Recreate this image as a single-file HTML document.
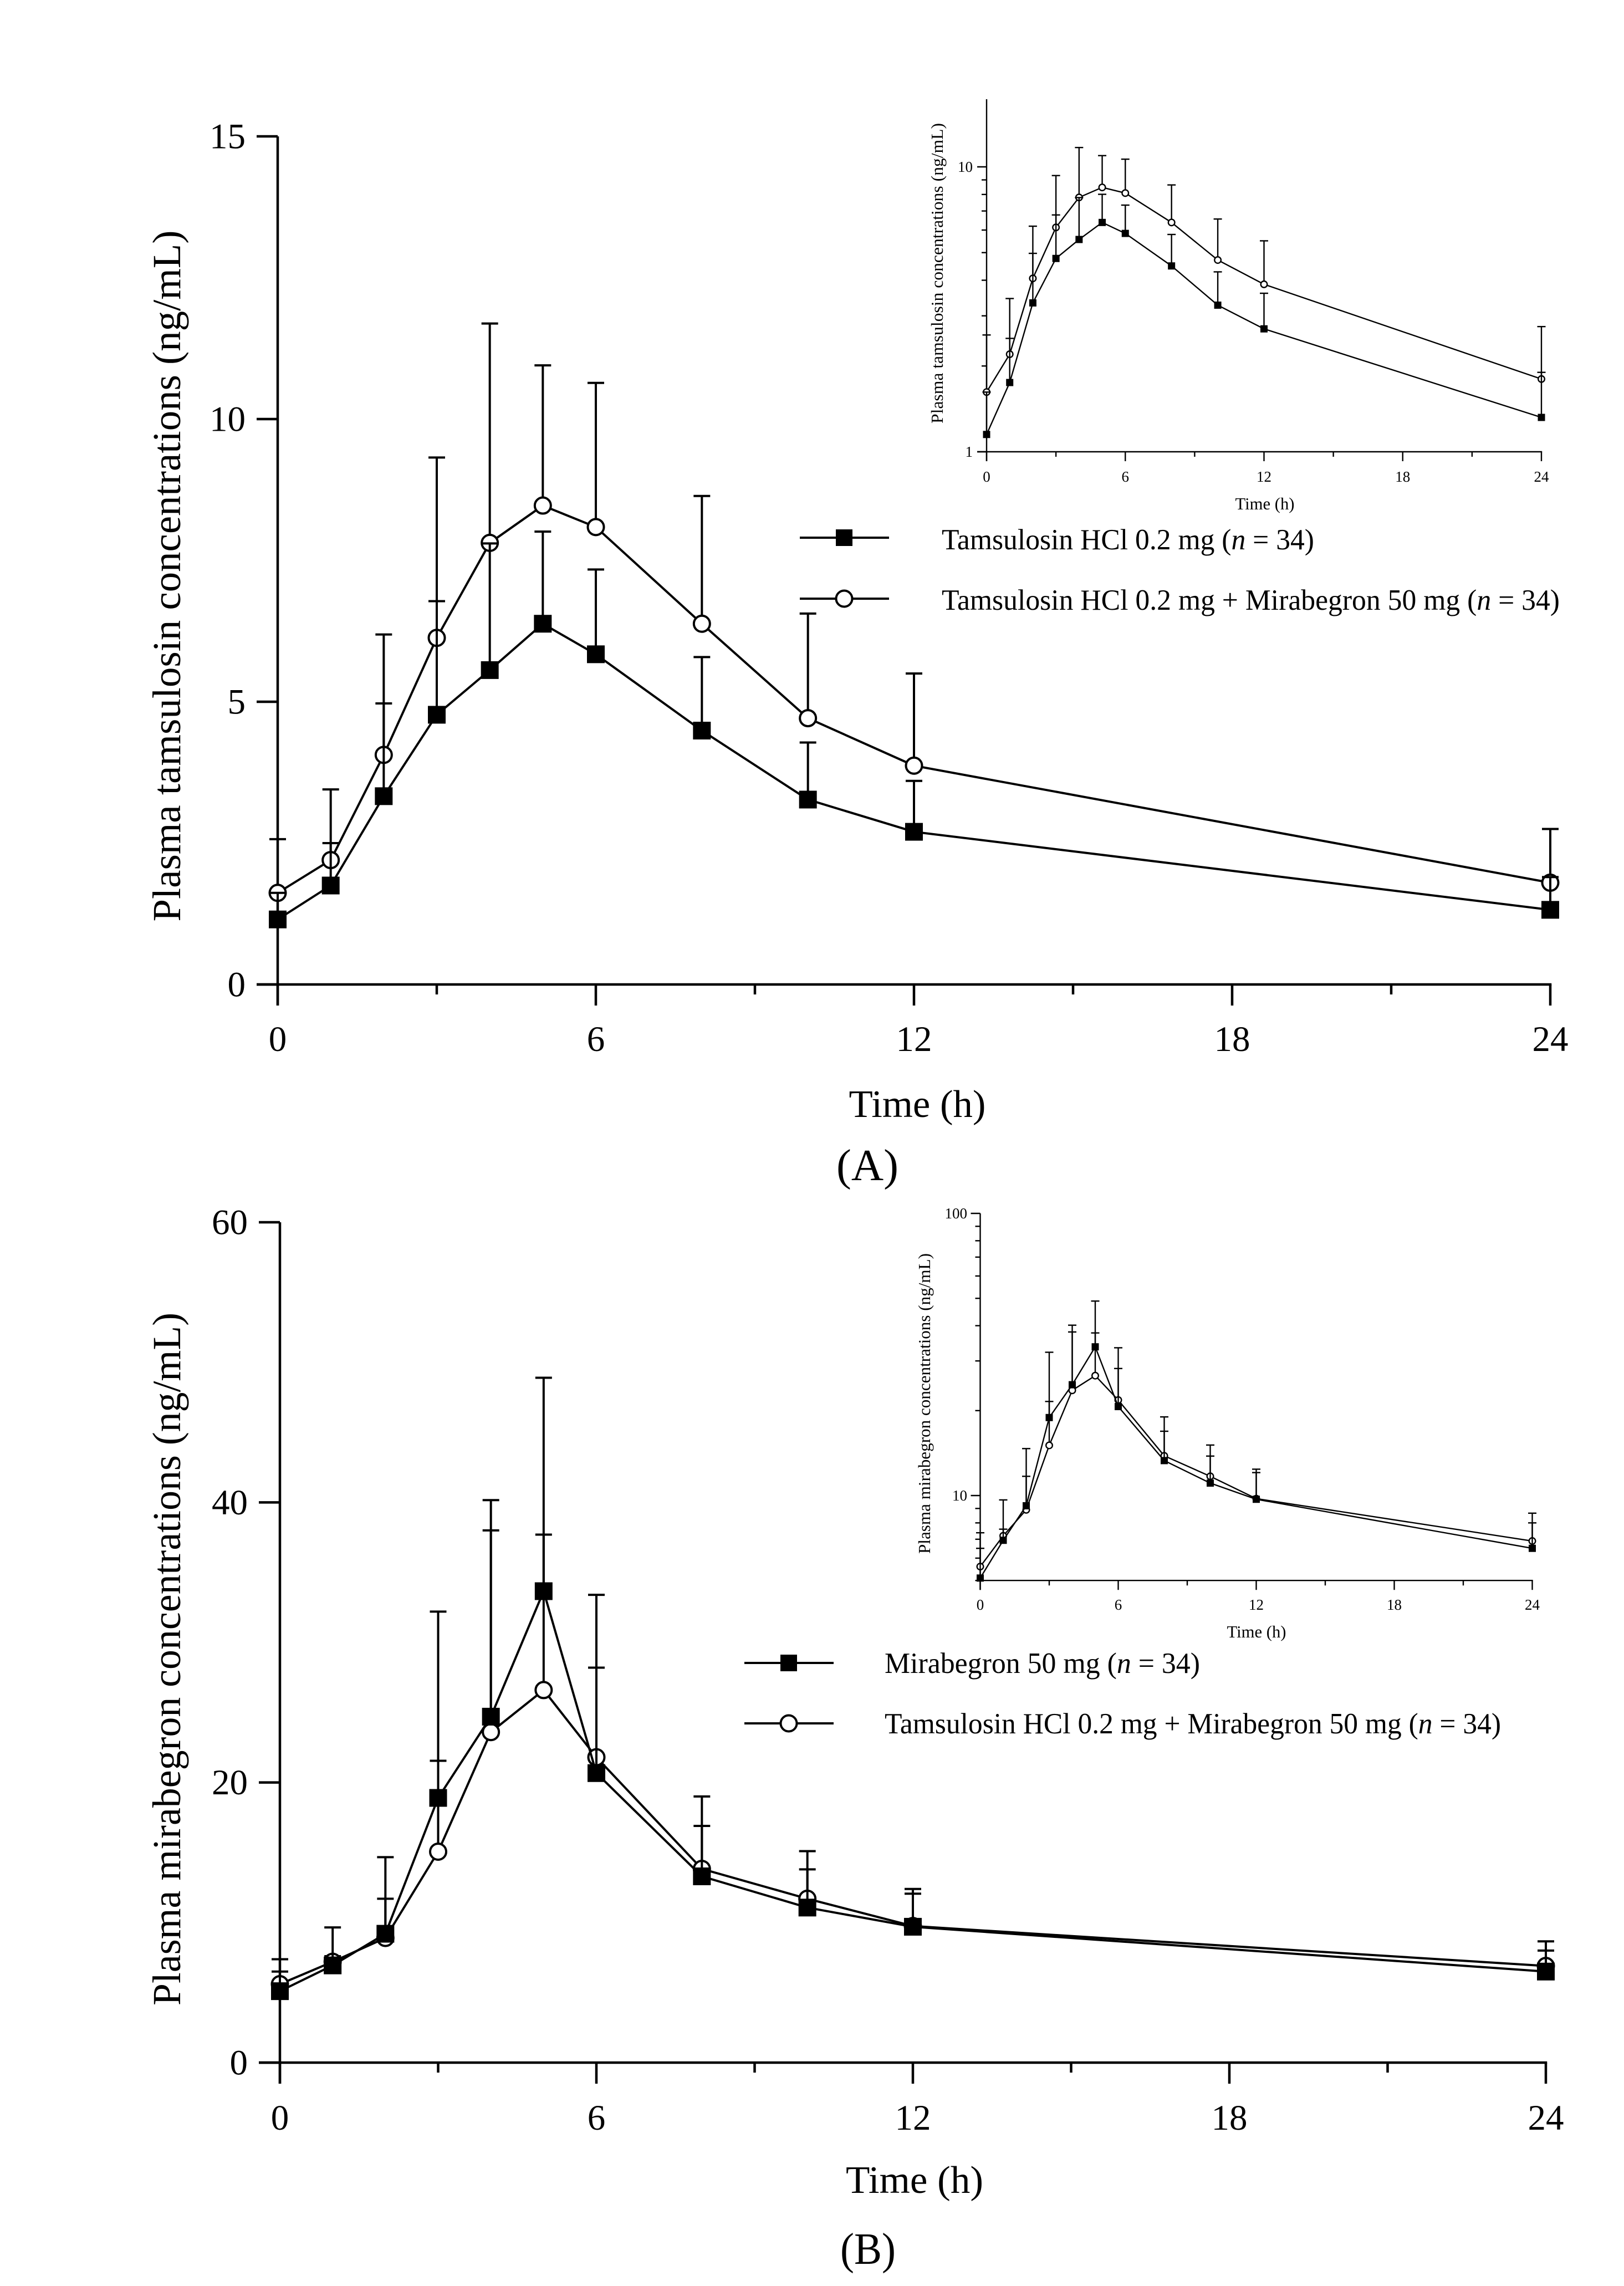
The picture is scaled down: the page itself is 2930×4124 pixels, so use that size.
<!DOCTYPE html>
<html lang="en">
<head>
<meta charset="utf-8">
<title>Plasma tamsulosin and mirabegron concentrations</title>
<style>
html,body{margin:0;padding:0;background:#fff;}
svg{display:block;}
text{font-family:"Liberation Serif",serif;fill:#000;}
</style>
</head>
<body>
<svg id="figure" xmlns="http://www.w3.org/2000/svg" width="2930" height="4124" viewBox="0 0 2930 4124">
  <rect x="0" y="0" width="2930" height="4124" fill="#fff"/>

  <g id="panel-a">
    <text x="0" y="0" transform="translate(325 1039) rotate(-90)" text-anchor="middle" font-size="72" textLength="1247" lengthAdjust="spacingAndGlyphs">Plasma tamsulosin concentrations (ng/mL)</text>
    <text x="1655" y="2015" text-anchor="middle" font-size="70" textLength="247" lengthAdjust="spacingAndGlyphs">Time (h)</text>
    <text x="1565" y="2129" text-anchor="middle" font-size="80" textLength="112" lengthAdjust="spacingAndGlyphs">(A)</text>
    <text x="0" y="0" transform="translate(1701 493) rotate(-90)" text-anchor="middle" font-size="31" textLength="542" lengthAdjust="spacingAndGlyphs">Plasma tamsulosin concentrations (ng/mL)</text>
    <text x="2282" y="919" text-anchor="middle" font-size="31" textLength="107" lengthAdjust="spacingAndGlyphs">Time (h)</text>
    <g>
      <line x1="1443" y1="970" x2="1604" y2="970" stroke="#000" stroke-width="4"/>
      <rect x="1508" y="955" width="30" height="30" fill="#000"/>
      <text x="1699" y="991" font-size="53" textLength="672" lengthAdjust="spacingAndGlyphs">Tamsulosin HCl 0.2 mg (<tspan font-style="italic">n</tspan> = 34)</text>
      <line x1="1443" y1="1080" x2="1604" y2="1080" stroke="#000" stroke-width="4"/>
      <circle cx="1523" cy="1080" r="14.5" fill="#fff" stroke="#000" stroke-width="4"/>
      <text x="1699" y="1100" font-size="53" textLength="1115" lengthAdjust="spacingAndGlyphs">Tamsulosin HCl 0.2 mg + Mirabegron 50 mg (<tspan font-style="italic">n</tspan> = 34)</text>
    </g>
  </g>

  <g id="panel-b">
    <text x="0" y="0" transform="translate(325 2993) rotate(-90)" text-anchor="middle" font-size="72" textLength="1250" lengthAdjust="spacingAndGlyphs">Plasma mirabegron concentrations (ng/mL)</text>
    <text x="1650" y="3956" text-anchor="middle" font-size="70" textLength="248" lengthAdjust="spacingAndGlyphs">Time (h)</text>
    <text x="1566" y="4084" text-anchor="middle" font-size="80" textLength="100" lengthAdjust="spacingAndGlyphs">(B)</text>
    <text x="0" y="0" transform="translate(1678 2532) rotate(-90)" text-anchor="middle" font-size="31" textLength="542" lengthAdjust="spacingAndGlyphs">Plasma mirabegron concentrations (ng/mL)</text>
    <text x="2267" y="2954" text-anchor="middle" font-size="31" textLength="107" lengthAdjust="spacingAndGlyphs">Time (h)</text>
    <g>
      <line x1="1343" y1="3000" x2="1504" y2="3000" stroke="#000" stroke-width="4"/>
      <rect x="1408" y="2985" width="30" height="30" fill="#000"/>
      <text x="1596" y="3018" font-size="53" textLength="569" lengthAdjust="spacingAndGlyphs">Mirabegron 50 mg (<tspan font-style="italic">n</tspan> = 34)</text>
      <line x1="1343" y1="3109" x2="1504" y2="3109" stroke="#000" stroke-width="4"/>
      <circle cx="1423" cy="3109" r="14.5" fill="#fff" stroke="#000" stroke-width="4"/>
      <text x="1596" y="3127" font-size="53" textLength="1112" lengthAdjust="spacingAndGlyphs">Tamsulosin HCl 0.2 mg + Mirabegron 50 mg (<tspan font-style="italic">n</tspan> = 34)</text>
    </g>
  </g>
</svg>

<script>
// Sampling times (h)
var hours = [0, 1, 2, 3, 4, 5, 6, 8, 10, 12, 24];

// Panel A: plasma tamsulosin (ng/mL)
var tamsulosinAloneMean = [1.15, 1.75, 3.33, 4.77, 5.56, 6.38, 5.84, 4.49, 3.27, 2.70, 1.32];
var tamsulosinAloneUpper = [1.62, 2.50, 4.97, 6.78, 7.80, 8.01, 7.34, 5.79, 4.28, 3.60, 1.90];
var tamsulosinComboMean = [1.62, 2.20, 4.06, 6.13, 7.81, 8.47, 8.09, 6.38, 4.71, 3.87, 1.80];
var tamsulosinComboUpper = [2.57, 3.45, 6.19, 9.32, 11.69, 10.95, 10.64, 8.64, 6.56, 5.50, 2.75];

// Panel B: plasma mirabegron (ng/mL)
var mirabegronAloneMean = [5.1, 6.94, 9.2, 18.9, 24.7, 33.66, 20.67, 13.3, 11.07, 9.7, 6.5];
var mirabegronAloneUpper = [6.5, 9.65, 14.67, 32.2, 40.16, 48.9, 33.4, 19.0, 15.1, 12.4, 8.66];
var mirabegronComboMean = [5.6, 7.2, 8.9, 15.06, 23.6, 26.6, 21.8, 13.83, 11.7, 9.75, 6.9];
var mirabegronComboUpper = [7.38, 7.6, 11.7, 21.55, 38.0, 37.7, 28.2, 16.9, 13.8, 12.06, 8.0];

// Axis ticks
var xMajorTicks = [0, 6, 12, 18, 24];
var xMinorTicks = [3, 9, 15, 21];
var panelAYTicks = [0, 5, 10, 15];
var panelBYTicks = [0, 20, 40, 60];
var insetAYMajorTicks = [1, 10];
var insetAYMinorTicks = [2, 3, 4, 5, 6, 7, 8, 9];
var insetBYMajorTicks = [10, 100];
var insetBYMinorTicks = [5, 6, 7, 8, 9, 20, 30, 40, 50, 60, 70, 80, 90];

var NS = 'http://www.w3.org/2000/svg';

function make(tag, attrs, parent) {
  var el = document.createElementNS(NS, tag);
  for (var k in attrs) { el.setAttribute(k, attrs[k]); }
  parent.appendChild(el);
  return el;
}

function linearScale(v0, p0, v1, p1) {
  return function (v) { return p0 + (v - v0) * (p1 - p0) / (v1 - v0); };
}

function logScale(v0, p0, v1, p1) {
  return function (v) { return p0 + (Math.log10(v) - Math.log10(v0)) * (p1 - p0) / (Math.log10(v1) - Math.log10(v0)); };
}

function drawAxes(group, cfg) {
  var sx = cfg.sx, sy = cfg.sy, el, i;
  var axisLeft = sx(0) - cfg.minorTickLeft;
  var axisY = sy(cfg.yBottom);

  el = make('line', {x1: sx(0), y1: cfg.yTopPx, x2: sx(0), y2: axisY + cfg.majorTick, stroke: '#000', 'stroke-width': cfg.axisWidth}, group);
  
  

  el = make('line', {x1: axisLeft, y1: axisY, x2: sx(24) + cfg.axisWidth / 2, y2: axisY, stroke: '#000', 'stroke-width': cfg.axisWidth}, group);
  
  

  for (i = 0; i < xMajorTicks.length; i++) {
    var tx = xMajorTicks[i];
    el = make('line', {x1: sx(tx), y1: axisY, x2: sx(tx), y2: axisY + cfg.majorTick, stroke: '#000', 'stroke-width': cfg.axisWidth}, group);
    
    
    el = make('text', {x: sx(tx), y: cfg.xLabelY, 'text-anchor': 'middle', 'font-size': cfg.labelSize}, group);
    el.textContent = String(tx);
    
    
  }
  for (i = 0; i < xMinorTicks.length; i++) {
    el = make('line', {x1: sx(xMinorTicks[i]), y1: axisY, x2: sx(xMinorTicks[i]), y2: axisY + cfg.minorTick, stroke: '#000', 'stroke-width': cfg.axisWidth}, group);
    
    
  }
  for (i = 0; i < cfg.yMajor.length; i++) {
    var yv = cfg.yMajor[i];
    el = make('line', {x1: sx(0) - cfg.majorTick, y1: sy(yv), x2: sx(0), y2: sy(yv), stroke: '#000', 'stroke-width': cfg.axisWidth}, group);
    
    
    el = make('text', {x: cfg.yLabelX, y: sy(yv) + cfg.labelSize * 0.33, 'text-anchor': 'end', 'font-size': cfg.labelSize}, group);
    el.textContent = String(yv);
    
    
  }
  for (i = 0; i < cfg.yMinor.length; i++) {
    el = make('line', {x1: sx(0) - cfg.minorTick, y1: sy(cfg.yMinor[i]), x2: sx(0), y2: sy(cfg.yMinor[i]), stroke: '#000', 'stroke-width': cfg.axisWidth}, group);
    
    
  }
}

function drawSeries(group, cfg, mean, upper, kind) {
  var sx = cfg.sx, sy = cfg.sy, el, i;
  for (i = 0; i < hours.length; i++) {
    var px = sx(hours[i]);
    el = make('line', {x1: px, y1: sy(mean[i]), x2: px, y2: sy(upper[i]), stroke: '#000', 'stroke-width': cfg.lineWidth}, group);
    
    
    el = make('line', {x1: px - cfg.capHalf, y1: sy(upper[i]), x2: px + cfg.capHalf, y2: sy(upper[i]), stroke: '#000', 'stroke-width': cfg.lineWidth}, group);
    
    
  }
  var pts = [];
  for (i = 0; i < hours.length; i++) { pts.push(sx(hours[i]) + ',' + sy(mean[i])); }
  el = make('polyline', {points: pts.join(' '), fill: 'none', stroke: '#000', 'stroke-width': cfg.lineWidth, 'stroke-linejoin': 'round'}, group);
  
  
  for (i = 0; i < hours.length; i++) {
    if (kind === 'square') {
      el = make('rect', {x: sx(hours[i]) - cfg.markerHalf, y: sy(mean[i]) - cfg.markerHalf, width: cfg.markerHalf * 2, height: cfg.markerHalf * 2, fill: '#000'}, group);
      
      
    } else {
      el = make('circle', {cx: sx(hours[i]), cy: sy(mean[i]), r: cfg.markerHalf - cfg.lineWidth / 2 + 0.5, fill: '#fff', stroke: '#000', 'stroke-width': cfg.lineWidth}, group);
      
      
    }
  }
}

function drawPlot(parentId, cfg, aloneMean, aloneUpper, comboMean, comboUpper) {
  var parent = document.getElementById(parentId);
  var axes = make('g', {}, parent);
  
  
  drawAxes(axes, cfg);
  var combo = make('g', {}, parent);
  
  
  drawSeries(combo, cfg, comboMean, comboUpper, 'circle');
  var alone = make('g', {}, parent);
  
  
  drawSeries(alone, cfg, aloneMean, aloneUpper, 'square');
}

var mainStyle = {axisWidth: 4.5, lineWidth: 4, majorTick: 38, minorTick: 18, minorTickLeft: 38, capHalf: 15, markerHalf: 16, labelSize: 65};
var insetStyle = {axisWidth: 2.4, lineWidth: 2.4, majorTick: 17, minorTick: 9, capHalf: 7.5, markerHalf: 6.5, labelSize: 27};

function withStyle(style, extra) {
  var out = {}, k;
  for (k in style) { out[k] = style[k]; }
  for (k in extra) { out[k] = extra[k]; }
  return out;
}

drawPlot('panel-a', withStyle(mainStyle, {
  sx: linearScale(0, 501, 24, 2797), sy: linearScale(0, 1776, 15, 246),
  yBottom: 0, yTopPx: 246, yMajor: panelAYTicks, yMinor: [], xLabelY: 1896, yLabelX: 443
}), tamsulosinAloneMean, tamsulosinAloneUpper, tamsulosinComboMean, tamsulosinComboUpper);

drawPlot('panel-a', withStyle(insetStyle, {
  sx: linearScale(0, 1780, 24, 2781), sy: logScale(1, 815, 10, 301),
  yBottom: 1, yTopPx: 179, yMajor: insetAYMajorTicks, yMinor: insetAYMinorTicks, xLabelY: 869, yLabelX: 1755, minorTickLeft: 17
}), tamsulosinAloneMean, tamsulosinAloneUpper, tamsulosinComboMean, tamsulosinComboUpper);

drawPlot('panel-b', withStyle(mainStyle, {
  sx: linearScale(0, 505, 24, 2789), sy: linearScale(0, 3721, 60, 2205),
  yBottom: 0, yTopPx: 2205, yMajor: panelBYTicks, yMinor: [], xLabelY: 3842, yLabelX: 447
}), mirabegronAloneMean, mirabegronAloneUpper, mirabegronComboMean, mirabegronComboUpper);

drawPlot('panel-b', withStyle(insetStyle, {
  sx: linearScale(0, 1768.5, 24, 2764.5), sy: logScale(10, 2698, 100, 2189),
  yBottom: 5, yTopPx: 2189, yMajor: insetBYMajorTicks, yMinor: insetBYMinorTicks, xLabelY: 2904, yLabelX: 1745, minorTickLeft: 9
}), mirabegronAloneMean, mirabegronAloneUpper, mirabegronComboMean, mirabegronComboUpper);
</script>
</body>
</html>
